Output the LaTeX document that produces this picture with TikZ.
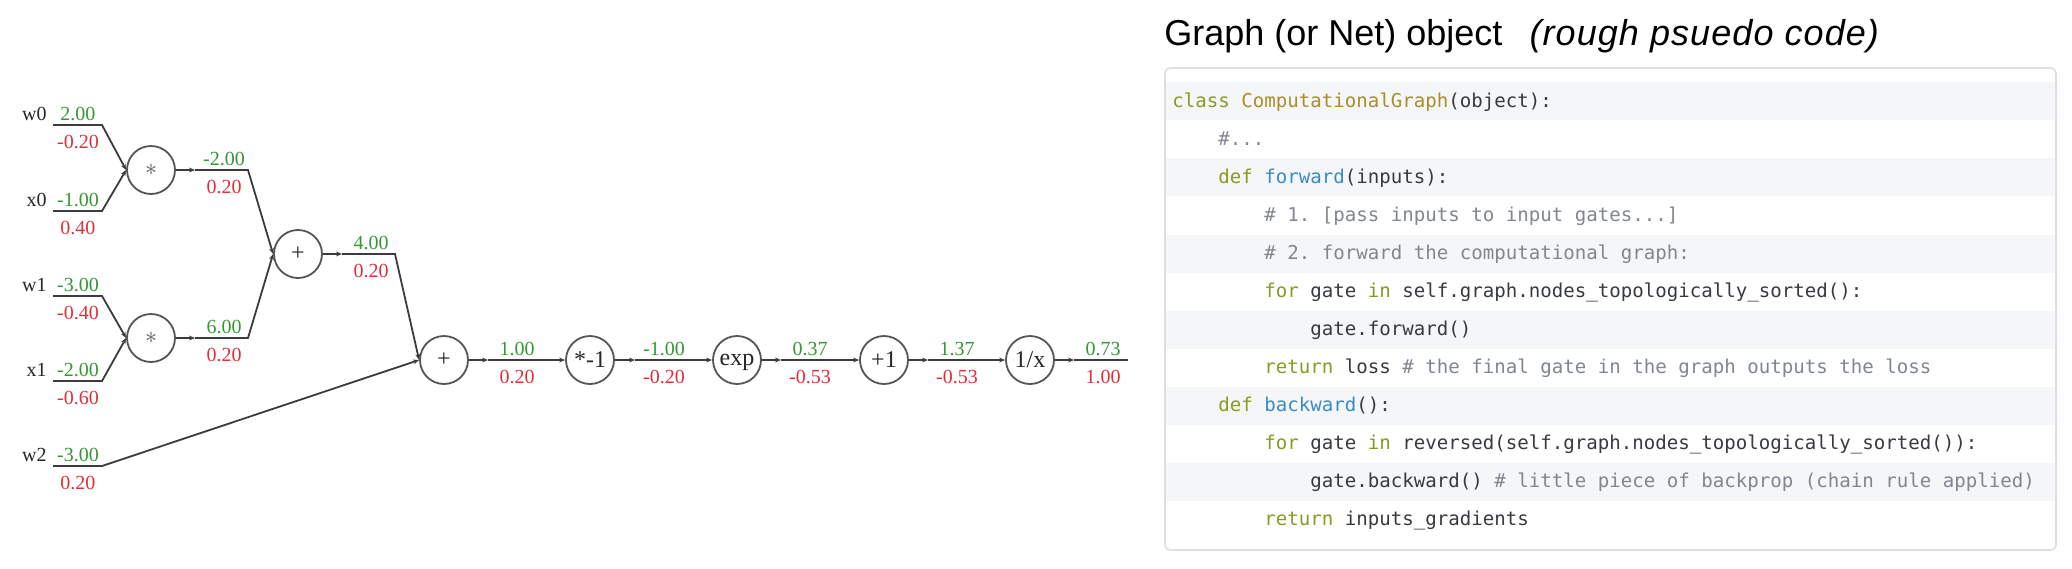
\documentclass[tikz,border=0pt]{standalone}
\usepackage{fontspec}
\setmainfont{Liberation Serif}
\setmonofont{DejaVu Sans Mono}
\newfontfamily\titlefont{Liberation Sans}
\usetikzlibrary{arrows.meta}

\definecolor{valgreen}{RGB}{52,152,52}
\definecolor{gradred}{RGB}{222,48,58}
\definecolor{wirecol}{RGB}{60,60,60}
\definecolor{gatecol}{RGB}{85,85,85}
\definecolor{boxline}{RGB}{221,223,226}
\definecolor{stripecol}{RGB}{245,246,248}
\definecolor{codekw}{RGB}{138,154,36}
\definecolor{codecls}{RGB}{168,143,42}
\definecolor{codefn}{RGB}{58,140,196}
\definecolor{codetxt}{RGB}{55,58,62}
\definecolor{codecm}{RGB}{128,135,142}

\newcommand{\ckw}[1]{\textcolor{codekw}{#1}}
\newcommand{\ccls}[1]{\textcolor{codecls}{#1}}
\newcommand{\cfn}[1]{\textcolor{codefn}{#1}}
\newcommand{\ccm}[1]{\textcolor{codecm}{#1}}

\begin{document}
\begin{tikzpicture}[x=0.5pt, y=-0.5pt,
        gate/.style={circle, draw=gatecol, line width=0.9pt, minimum size=24pt, inner sep=0pt, text=black!85, font=\fontsize{12}{14}\selectfont},
        wire/.style={draw=wirecol, line width=0.9pt},
        wiretip/.style={wire, -{Stealth[length=3pt, width=2.4pt]}},
        fwd/.style={anchor=base, inner sep=0pt, text=valgreen, font=\fontsize{10}{12}\selectfont},
        bwd/.style={anchor=base, inner sep=0pt, text=gradred, font=\fontsize{10}{12}\selectfont},
        inlabel/.style={anchor=base east, inner sep=0pt, text=black!85, font=\fontsize{10}{12}\selectfont},
        rowband/.style={fill=stripecol, draw=none},
        codeline/.style={anchor=base west, inner sep=0pt, text=codetxt, font=\ttfamily\fontsize{9.55}{11}\selectfont}
    ]
        \useasboundingbox (0,0) rectangle (2072,568);
        \fill[white] (0,0) rectangle (2072,568);

        % Gates of the computational graph
        \node[gate] (mul0) at (151,170) {\textcolor{gatecol}{$\ast$}};
        \node[gate] (mul1) at (151,338) {\textcolor{gatecol}{$\ast$}};
        \node[gate] (add0) at (298,254) {+};
        \node[gate] (add1) at (444,360) {+};
        \node[gate] (neg) at (590,360) {*-1};
        \node[gate, text depth=0pt] (exp) at (737,360) {exp};
        \node[gate] (inc) at (884,360) {+1};
        \node[gate] (inv) at (1030,360) {1/x};

        % Inputs w0, x0, w1, x1, w2
        \coordinate (w0s) at (53,125);  \coordinate (w0c) at (102,125);
        \coordinate (x0s) at (53,211);  \coordinate (x0c) at (102,211);
        \coordinate (w1s) at (53,296);  \coordinate (w1c) at (102,296);
        \coordinate (x1s) at (53,381);  \coordinate (x1c) at (102,381);
        \coordinate (w2s) at (53,466);  \coordinate (w2c) at (102,466);
        \draw[wiretip] (w0s) -- (w0c) -- (mul0.west);
        \draw[wiretip] (x0s) -- (x0c) -- (mul0.west);
        \draw[wiretip] (w1s) -- (w1c) -- (mul1.west);
        \draw[wiretip] (x1s) -- (x1c) -- (mul1.west);
        \draw[wiretip] (w2s) -- (w2c) -- (add1.west);

        \node[inlabel] (w0n) at (47,120) {w0};
        \node[fwd] (w0f) at (78,120) {2.00};
        \node[bwd] (w0b) at (78,148) {-0.20};
        \node[inlabel] (x0n) at (47,206) {x0};
        \node[fwd] (x0f) at (78,206) {-1.00};
        \node[bwd] (x0b) at (78,234) {0.40};
        \node[inlabel] (w1n) at (47,291) {w1};
        \node[fwd] (w1f) at (78,291) {-3.00};
        \node[bwd] (w1b) at (78,319) {-0.40};
        \node[inlabel] (x1n) at (47,376) {x1};
        \node[fwd] (x1f) at (78,376) {-2.00};
        \node[bwd] (x1b) at (78,404) {-0.60};
        \node[inlabel] (w2n) at (47,461) {w2};
        \node[fwd] (w2f) at (78,461) {-3.00};
        \node[bwd] (w2b) at (78,489) {0.20};

        % Products into the first sum
        \coordinate (mul0d) at (195,170);  \coordinate (mul0c) at (248,170);
        \coordinate (mul1d) at (195,338);  \coordinate (mul1c) at (248,338);
        \draw[wiretip] (mul0.east) -- (mul0d);
        \draw[wiretip] (mul0d) -- (mul0c) -- (add0.west);
        \draw[wiretip] (mul1.east) -- (mul1d);
        \draw[wiretip] (mul1d) -- (mul1c) -- (add0.west);
        \node[fwd] (mul0f) at (224,165) {-2.00};
        \node[bwd] (mul0b) at (224,193) {0.20};
        \node[fwd] (mul1f) at (224,333) {6.00};
        \node[bwd] (mul1b) at (224,361) {0.20};

        % First sum into the second sum
        \coordinate (add0d) at (342,254);  \coordinate (add0c) at (395,254);
        \draw[wiretip] (add0.east) -- (add0d);
        \draw[wiretip] (add0d) -- (add0c) -- (add1.west);
        \node[fwd] (add0f) at (371,249) {4.00};
        \node[bwd] (add0b) at (371,277) {0.20};

        % The sigmoid chain
        \coordinate (add1d) at (488,360);
        \coordinate (negd) at (635,360);
        \coordinate (expd) at (781,360);
        \coordinate (incd) at (928,360);
        \coordinate (invd) at (1074,360);
        \coordinate (outc) at (1128,360);
        \draw[wiretip] (add1.east) -- (add1d);
        \draw[wiretip] (add1d) -- (neg.west);
        \draw[wiretip] (neg.east) -- (negd);
        \draw[wiretip] (negd) -- (exp.west);
        \draw[wiretip] (exp.east) -- (expd);
        \draw[wiretip] (expd) -- (inc.west);
        \draw[wiretip] (inc.east) -- (incd);
        \draw[wiretip] (incd) -- (inv.west);
        \draw[wiretip] (inv.east) -- (invd);
        \draw[wire] (invd) -- (outc);

        \node[fwd] (add1f) at (517,355) {1.00};
        \node[bwd] (add1b) at (517,383) {0.20};
        \node[fwd] (negf) at (664,355) {-1.00};
        \node[bwd] (negb) at (664,383) {-0.20};
        \node[fwd] (expf) at (810,355) {0.37};
        \node[bwd] (expb) at (810,383) {-0.53};
        \node[fwd] (incf) at (957,355) {1.37};
        \node[bwd] (incb) at (957,383) {-0.53};
        \node[fwd] (invf) at (1103,355) {0.73};
        \node[bwd] (invb) at (1103,383) {1.00};

        % Title of the code panel
        \node[anchor=base west, inner sep=0pt, font=\titlefont\fontsize{18}{21}\selectfont] (title) at (1164,45)
            {Graph (or Net) object\hspace{0.75em}{\addfontfeatures{LetterSpace=3}\textit{(rough psuedo code)}}};

        % Code box with striped rows
        \fill[white] (1165,68) rectangle (2056,550);
        \fill[rowband] (1166,82) rectangle (2055,120);
        \fill[rowband] (1166,158) rectangle (2055,196);
        \fill[rowband] (1166,235) rectangle (2055,273);
        \fill[rowband] (1166,311) rectangle (2055,349);
        \fill[rowband] (1166,387) rectangle (2055,425);
        \fill[rowband] (1166,463) rectangle (2055,501);
        \draw[boxline, line width=0.8pt, rounded corners=2.5pt] (1165,68) rectangle (2056,550);

        \node[codeline] (code1) at (1172,107) {\ckw{class} \ccls{ComputationalGraph}(object):};
        \node[codeline] (code2) at (1218,145) {\ccm{\#...}};
        \node[codeline] (code3) at (1218,183) {\ckw{def} \cfn{forward}(inputs):};
        \node[codeline] (code4) at (1264,221) {\ccm{\# 1. [pass inputs to input gates...]}};
        \node[codeline] (code5) at (1264,259) {\ccm{\# 2. forward the computational graph:}};
        \node[codeline] (code6) at (1264,297) {\ckw{for} gate \ckw{in} self.graph.nodes\_topologically\_sorted():};
        \node[codeline] (code7) at (1310,335) {gate.forward()};
        \node[codeline] (code8) at (1264,373) {\ckw{return} loss \ccm{\# the final gate in the graph outputs the loss}};
        \node[codeline] (code9) at (1218,411) {\ckw{def} \cfn{backward}():};
        \node[codeline] (code10) at (1264,449) {\ckw{for} gate \ckw{in} reversed(self.graph.nodes\_topologically\_sorted()):};
        \node[codeline] (code11) at (1310,487) {gate.backward() \ccm{\# little piece of backprop (chain rule applied)}};
        \node[codeline] (code12) at (1264,525) {\ckw{return} inputs\_gradients};

    \end{tikzpicture}
\end{document}
